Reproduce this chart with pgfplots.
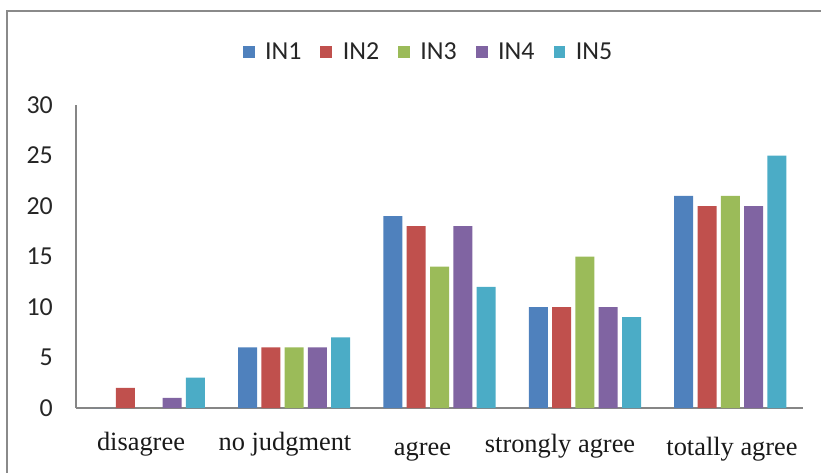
\documentclass[border=0pt]{standalone}
\usepackage{fontspec}
\usepackage{pgfplots}
\pgfplotsset{compat=1.18}
\setmainfont{Liberation Serif}
\newfontfamily\calibri{Carlito}

\definecolor{inA}{HTML}{4F81BD}
\definecolor{inB}{HTML}{C0504D}
\definecolor{inC}{HTML}{9BBB59}
\definecolor{inD}{HTML}{8064A2}
\definecolor{inE}{HTML}{4BACC6}
\definecolor{axisgray}{HTML}{868686}
\definecolor{framegray}{HTML}{8A8A8A}

\begin{document}
\begin{tikzpicture}
\useasboundingbox (0bp,0bp) rectangle (821bp,-473bp);
% chart area frame (left and top edges)
\draw[framegray, line width=2bp] (7bp,-490bp) -- (7bp,-11bp) -- (840bp,-11bp);
\begin{axis}[
  at={(76bp,-408bp)}, anchor=south west,
  scale only axis, width=727bp, height=303bp,
  xmin=-0.5, xmax=4.5, ymin=0, ymax=30,
  ytick={0,5,...,30},
  % category labels sit where the chart places them, not exactly under each group
  xtick={-0.053, 0.937, 1.883, 2.829, 4.012},
  xticklabels={
    {\raisebox{3bp}{disagree}},
    {\raisebox{3bp}{no judgment}},
    {\raisebox{-2bp}{agree}},
    {\raisebox{1bp}{strongly agree}},
    {\raisebox{-2bp}{totally agree}}},
  major tick length=0pt,
  axis x line*=bottom, axis y line*=left,
  axis line style={-, axisgray, line width=1.2bp},
  /pgf/number format/assume math mode=true,
  yticklabel style={font=\calibri\fontsize{26}{30}\selectfont, inner sep=0pt, anchor=east, xshift=-23bp, text=black!85},
  xticklabel style={font=\fontsize{26.5}{30}\selectfont, anchor=base, inner sep=0pt, yshift=-45bp, text=black!90},
  ybar=4.3bp, bar width=19bp,
  every axis plot/.append style={draw=none},
  legend columns=5,
  legend style={
    at={(0.4835,1.175)}, anchor=center, draw=none, fill=none,
    font=\calibri\fontsize{26}{30}\selectfont, text=black!85,
    nodes={inner sep=0pt},
    /tikz/every even column/.append style={column sep=19bp},
  },
  legend image code/.code={
    \fill[#1] (0bp,-5.8bp) rectangle (11.7bp,5.8bp);
    \path (22.3bp,0bp);
  },
]
\addplot[fill=inA] coordinates {(0,0) (1,6) (2,19) (3,10) (4,21)};
\addplot[fill=inB] coordinates {(0,2) (1,6) (2,18) (3,10) (4,20)};
\addplot[fill=inC] coordinates {(0,0) (1,6) (2,14) (3,15) (4,21)};
\addplot[fill=inD] coordinates {(0,1) (1,6) (2,18) (3,10) (4,20)};
\addplot[fill=inE] coordinates {(0,3) (1,7) (2,12) (3,9) (4,25)};
\legend{IN1, IN2, IN3, IN4, IN5}
\end{axis}
\end{tikzpicture}
\end{document}
